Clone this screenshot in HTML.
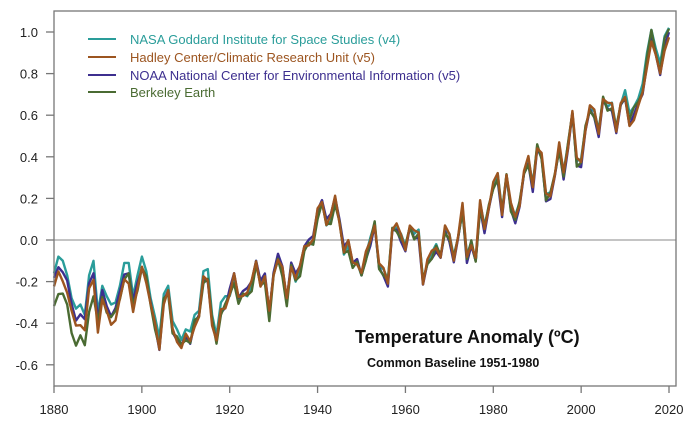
<!DOCTYPE html>
<html><head><meta charset="utf-8"><style>
body{margin:0;background:#fff;}
svg{display:block;font-family:"Liberation Sans",Arial,sans-serif;}
</style></head><body>
<svg id="s" width="700" height="434" viewBox="0 0 700 434" xmlns="http://www.w3.org/2000/svg">
<rect x="0" y="0" width="700" height="434" fill="#fff"/>
<line x1="54" y1="240" x2="676" y2="240" stroke="#b0b0b0" stroke-width="1.5"/>
<g id="series" fill="none" stroke-width="2.4" stroke-linejoin="round"></g>
<rect x="54" y="11" width="622" height="375" fill="none" stroke="#777" stroke-width="1.3"/>
<g stroke="#777" stroke-width="1.3" id="ticks"></g>
<g font-size="13" fill="#222" id="labels"></g>
<g font-size="13">
<line x1="88" y1="39" x2="116" y2="39" stroke="#2a9d9a" stroke-width="2"/>
<text x="130" y="44" fill="#2a9d9a">NASA Goddard Institute for Space Studies (v4)</text>
<line x1="88" y1="57" x2="116" y2="57" stroke="#9c5520" stroke-width="2"/>
<text x="130" y="62" fill="#9c5520">Hadley Center/Climatic Research Unit (v5)</text>
<line x1="88" y1="75" x2="116" y2="75" stroke="#3d2f8f" stroke-width="2"/>
<text x="130" y="80" fill="#3d2f8f">NOAA National Center for Environmental Information (v5)</text>
<line x1="88" y1="92" x2="116" y2="92" stroke="#4a6b32" stroke-width="2"/>
<text x="130" y="97" fill="#4a6b32">Berkeley Earth</text>
</g>
<text x="355" y="343" font-size="18" font-weight="bold" fill="#111">Temperature Anomaly (ºC)</text>
<text x="367" y="367" font-size="12.5" font-weight="bold" fill="#111">Common Baseline 1951-1980</text>
</svg>
<script>
var g=[-0.16,-0.08,-0.10,-0.17,-0.28,-0.33,-0.31,-0.36,-0.17,-0.10,-0.35,-0.22,-0.27,-0.31,-0.30,-0.22,-0.11,-0.11,-0.27,-0.17,
-0.08,-0.15,-0.28,-0.37,-0.47,-0.26,-0.22,-0.39,-0.43,-0.48,-0.43,-0.44,-0.36,-0.34,-0.15,-0.14,-0.36,-0.46,-0.30,-0.27,
-0.27,-0.19,-0.28,-0.26,-0.27,-0.22,-0.10,-0.22,-0.20,-0.36,-0.16,-0.10,-0.16,-0.29,-0.12,-0.20,-0.15,-0.03,-0.02,-0.02,
0.13,0.19,0.07,0.09,0.20,0.09,-0.07,-0.03,-0.11,-0.11,-0.17,-0.07,0.01,0.08,-0.13,-0.14,-0.19,0.05,0.06,0.03,
-0.03,0.06,0.03,0.05,-0.20,-0.11,-0.06,-0.02,-0.08,0.05,0.03,-0.08,0.01,0.16,-0.07,-0.01,-0.10,0.18,0.07,0.16,
0.26,0.32,0.14,0.31,0.16,0.12,0.18,0.32,0.39,0.27,0.45,0.40,0.22,0.23,0.31,0.45,0.33,0.46,0.61,0.38,
0.39,0.54,0.63,0.62,0.53,0.68,0.64,0.66,0.54,0.65,0.72,0.61,0.64,0.68,0.75,0.90,1.01,0.92,0.85,0.98,1.02];
function X(y){return 54+(y-1880)*615/140;}
function Y(v){return 240-208*v;}
function off(kind,i){var yr=1880+i,e=0,w=Math.sin(i*1.7+kind)*0.02;
 if(kind==1){e=yr<1900?-0.08:yr<1920?-0.04:yr<1950?0.01:yr<2010?0.0:-0.05;}
 if(kind==2){e=yr<1900?-0.04:yr<1920?-0.04:yr<1950?0.02:yr<2010?-0.02:-0.04;}
 if(kind==3){e=yr<1890?-0.16:yr<1900?-0.06:yr<1920?-0.04:yr<1950?-0.01:yr<2010?-0.01:-0.02;}
 return e+w;}
var cols=["#2a9d9a","#3d2f8f","#4a6b32","#9c5520"],kinds=[0,2,3,1];
var sg=document.getElementById("series"),NS="http://www.w3.org/2000/svg";
kinds.forEach(function(k,j){var d="";for(var i=0;i<g.length;i++){var v=g[i]+(k?off(k,i):0);d+=(i?"L":"M")+X(1880+i).toFixed(1)+" "+Y(v).toFixed(1);}
 var p=document.createElementNS(NS,"path");p.setAttribute("d",d);p.setAttribute("stroke",cols[j]);sg.appendChild(p);});
var tk=document.getElementById("ticks"),lb=document.getElementById("labels");
function ln(a,b,c,d){var l=document.createElementNS(NS,"line");l.setAttribute("x1",a);l.setAttribute("y1",b);l.setAttribute("x2",c);l.setAttribute("y2",d);tk.appendChild(l);}
function tx(x,y,t,a){var e=document.createElementNS(NS,"text");e.setAttribute("x",x);e.setAttribute("y",y);e.setAttribute("text-anchor",a);e.textContent=t;lb.appendChild(e);}
for(var v=-6;v<=10;v+=2){var y=Y(v/10);ln(46,y,54,y);tx(38,y+5,(v/10).toFixed(1),"end");}
for(var yr=1880;yr<=2020;yr+=20){var x=X(yr);ln(x,386,x,393);tx(x,414,""+yr,"middle");}
</script>
</body></html>
